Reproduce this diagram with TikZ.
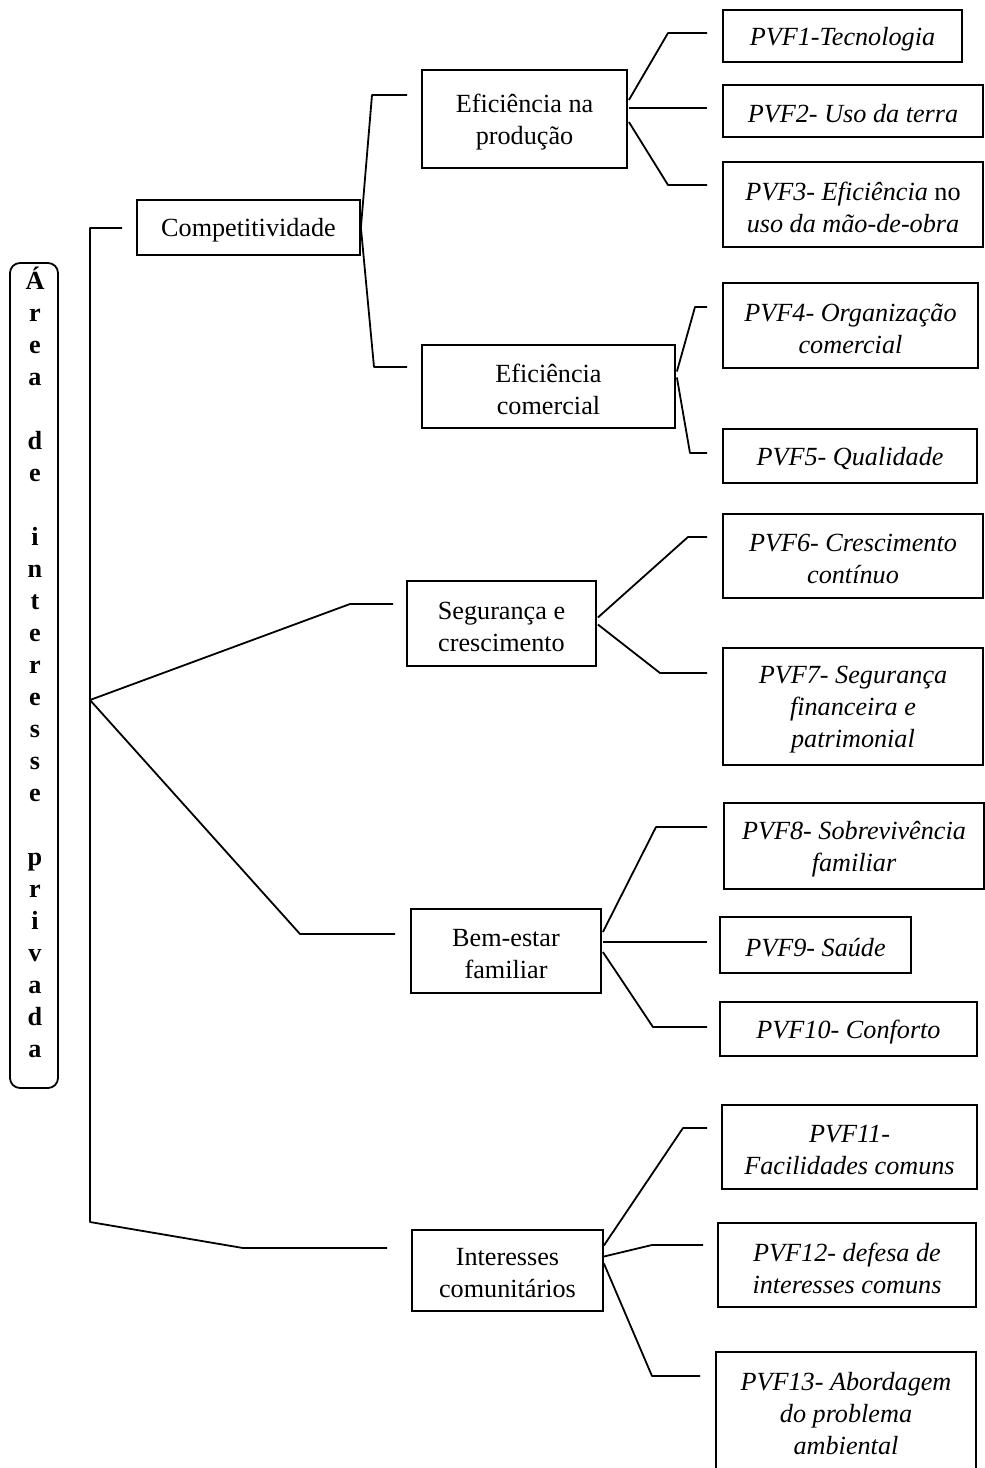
\documentclass[tikz,border=0pt]{standalone}
\usepackage{fontspec}
\setmainfont{Liberation Serif}
\usetikzlibrary{calc}
\tikzset{
  bx/.style={draw, line width=0.9pt, inner sep=0pt},
  txt/.style={inner sep=0pt, align=center, yshift=-1.5pt, font=\fontsize{13.1}{16}\selectfont},
  itxt/.style={txt, font=\fontsize{13.1}{16}\selectfont\itshape},
  ln/.style={line width=0.9pt, line join=round},
}
\begin{document}
\begin{tikzpicture}[x=0.5pt,y=-0.5pt]
\useasboundingbox (0,0) rectangle (985,1468);
% left vertical box
\node[draw, line width=0.9pt, rounded corners=5pt, minimum width=24pt, minimum height=412.5pt, inner sep=0pt] (area) at (34,675.5) {};
\node[font=\fontsize{13.1}{16}\selectfont\bfseries, align=center, inner sep=0pt] (areatxt) at (35,662)
 {Á\\r\\e\\a\\\mbox{}\\d\\e\\\mbox{}\\i\\n\\t\\e\\r\\e\\s\\s\\e\\\mbox{}\\p\\r\\i\\v\\a\\d\\a};
% level 1
\node[bx,minimum width=111.5pt,minimum height=27.5pt,label={[txt]center:{Competitividade}}] (comp) at (248.5,227.5) {};
\node[bx,minimum width=94.5pt,minimum height=42.5pt,label={[txt]center:{Segurança e\\crescimento}}] (seg) at (501.5,623.5) {};
\node[bx,minimum width=95pt,minimum height=42pt,label={[txt]center:{Bem-estar\\familiar}}] (bem) at (506,951) {};
\node[bx,minimum width=95.5pt,minimum height=40.5pt,label={[txt]center:{Interesses\\comunitários}}] (int) at (507.5,1270.5) {};
% level 2
\node[bx,minimum width=102.5pt,minimum height=49pt,label={[txt]center:{Eficiência na\\produção}}] (efp) at (524.5,119) {};
\node[bx,minimum width=126.5pt,minimum height=41.5pt,label={[txt]center:{Eficiência\\comercial}}] (efc) at (548.5,386.5) {};
% leaves
\node[bx,minimum width=119.5pt,minimum height=26pt,label={[itxt]center:{PVF1-Tecnologia}}] (p1) at (842.5,36) {};
\node[bx,minimum width=130pt,minimum height=26pt,label={[itxt]center:{PVF2- Uso da terra}}] (p2) at (853,111) {};
\node[bx,minimum width=130pt,minimum height=42.5pt,label={[itxt]center:{PVF3- Eficiência \textup{no}\\uso da mão-de-obra}}] (p3) at (853,204.5) {};
\node[bx,minimum width=127.5pt,minimum height=42.5pt,label={[itxt]center:{PVF4- Organização\\comercial}}] (p4) at (850.5,325.5) {};
\node[bx,minimum width=127pt,minimum height=27pt,label={[itxt]center:{PVF5- Qualidade}}] (p5) at (850,456) {};
\node[bx,minimum width=130pt,minimum height=42pt,label={[itxt]center:{PVF6- Crescimento\\contínuo}}] (p6) at (853,556) {};
\node[bx,minimum width=130pt,minimum height=58.5pt,label={[itxt]center:{PVF7- Segurança\\financeira e\\patrimonial}}] (p7) at (853,706.5) {};
\node[bx,minimum width=130pt,minimum height=43pt,label={[itxt]center:{PVF8- Sobrevivência\\familiar}}] (p8) at (854,846) {};
\node[bx,minimum width=95.5pt,minimum height=28pt,label={[itxt]center:{PVF9- Saúde}}] (p9) at (815.5,945) {};
\node[bx,minimum width=128.5pt,minimum height=27pt,label={[itxt]center:{PVF10- Conforto}}] (p10) at (848.5,1029) {};
\node[bx,minimum width=127.5pt,minimum height=42pt,label={[itxt]center:{PVF11-\\Facilidades comuns}}] (p11) at (849.5,1147) {};
\node[bx,minimum width=129pt,minimum height=42pt,label={[itxt]center:{PVF12- defesa de\\interesses comuns}}] (p12) at (847,1265) {};
\node[bx,minimum width=130pt,minimum height=59pt,label={[itxt]center:{PVF13- Abordagem\\do problema\\ambiental}}] (p13) at (846,1411) {};
% free ends
\coordinate (tcomp) at (122,228);
\coordinate (tseg) at (393,604);
\coordinate (tbem) at (395,934);
\coordinate (tint) at (387,1248);
\coordinate (tefp) at (407,95);
\coordinate (tefc) at (407,367);
\coordinate (t1) at (707,33);
\coordinate (t2) at (707,108);
\coordinate (t3) at (707,185);
\coordinate (t4) at (707,307);
\coordinate (t5) at (707,453);
\coordinate (t6) at (707,537);
\coordinate (t7) at (707,673);
\coordinate (t8) at (707,827);
\coordinate (t9) at (707,942);
\coordinate (t10) at (707,1027);
\coordinate (t11) at (707,1128);
\coordinate (t12) at (703,1245);
\coordinate (t13) at (700,1376);
\coordinate (root) at (90,700);
% main trunk
\draw[ln] (tcomp) -- (90,228) -- (90,1222) -- (243,1248) -- (tint);
\draw[ln] (root) -- (350,604) -- (tseg);
\draw[ln] (root) -- (300,934) -- (tbem);
% competitividade
\draw[ln] (tefp) -- (372,95) -- (comp.east) -- (374,367) -- (tefc);
% eficiencia producao
\draw[ln] ($(efp.east)+(1,-19)$) -- (668,33) -- (t1);
\draw[ln] ($(efp.east)+(1,-11)$) -- (t2);
\draw[ln] ($(efp.east)+(1,3)$) -- (668,185) -- (t3);
% eficiencia comercial
\draw[ln] ($(efc.east)+(1,-15)$) -- (695,307) -- (t4);
\draw[ln] ($(efc.east)+(1,-9)$) -- (690,453) -- (t5);
% seguranca
\draw[ln] ($(seg.east)+(1,-6)$) -- (688,537) -- (t6);
\draw[ln] ($(seg.east)+(1,1)$) -- (660,673) -- (t7);
% bem-estar
\draw[ln] ($(bem.east)+(1,-19)$) -- (656,827) -- (t8);
\draw[ln] ($(bem.east)+(1,-9)$) -- (t9);
\draw[ln] ($(bem.east)+(1,1)$) -- (653,1027) -- (t10);
% interesses
\draw[ln] ($(int.east)+(0,-25)$) -- (683,1128) -- (t11);
\draw[ln] ($(int.east)+(0,-14)$) -- (652,1245) -- (t12);
\draw[ln] ($(int.east)+(0,-7)$) -- (652,1376) -- (t13);
\end{tikzpicture}
\end{document}
